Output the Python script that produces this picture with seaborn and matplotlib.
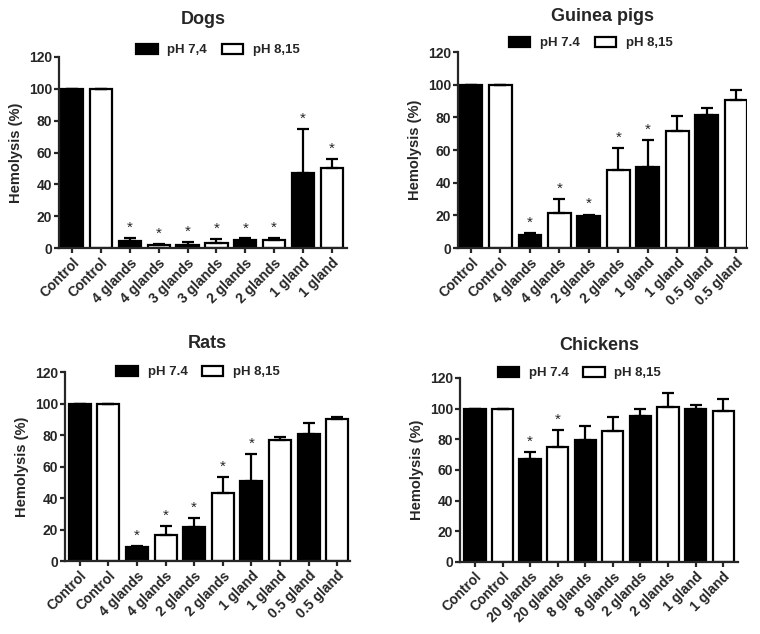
import pandas as pd
import matplotlib.pyplot as plt
import seaborn as sns
import numpy as np

# Dogs
dogs_labels = ['Control', 'Control', '4 glands', '4 glands', '3 glands', '3 glands',
               '2 glands', '2 glands', '1 gland', '1 gland']
dogs_values = [100, 100, 4.5, 2, 2, 3, 5, 5, 47, 50.5]
dogs_errors = [0, 0, 2, 0.5, 1.5, 2.5, 1, 1.5, 28, 5.5]
dogs_stars = [0, 0, 1, 1, 1, 1, 1, 1, 1, 1]
dogs_ph = ['pH 7,4', 'pH 8,15']

# Guinea pigs
gp_labels = ['Control', 'Control', '4 glands', '4 glands', '2 glands', '2 glands',
             '1 gland', '1 gland', '0.5 gland', '0.5 gland']
gp_values = [100, 100, 8, 21.5, 19.5, 48, 49.5, 71.5, 81.5, 90.5]
gp_errors = [0, 0, 1, 8.5, 1, 13, 16.5, 9.5, 4, 6.5]
gp_stars = [0, 0, 1, 1, 1, 1, 1, 0, 0, 0]
gp_ph = ['pH 7.4', 'pH 8,15']

# Rats
rats_labels = ['Control', 'Control', '4 glands', '4 glands', '2 glands', '2 glands',
               '1 gland', '1 gland', '0.5 gland', '0.5 gland']
rats_values = [100, 100, 9, 16.5, 21.5, 43, 51, 77, 80.5, 90]
rats_errors = [0, 0, 0.5, 5.5, 6, 10.5, 17, 2, 7, 1.5]
rats_stars = [0, 0, 1, 1, 1, 1, 1, 0, 0, 0]
rats_ph = ['pH 7.4', 'pH 8,15']

# Chickens
chk_labels = ['Control', 'Control', '20 glands', '20 glands', '8 glands', '8 glands',
              '2 glands', '2 glands', '1 gland', '1 gland']
chk_values = [100, 100, 67, 75, 79.5, 85.5, 95.5, 101, 99.5, 98.5]
chk_errors = [0, 0, 5, 11, 9, 9, 4.5, 9, 3, 7.5]
chk_stars = [0, 0, 1, 1, 0, 0, 0, 0, 0, 0]
chk_ph = ['pH 7.4', 'pH 8,15']

sns.set_style('ticks')
plt.rcParams['font.family'] = ['Liberation Sans', 'DejaVu Sans']
plt.rcParams['font.weight'] = 'bold'

fig = plt.figure(figsize=(7.6, 6.34), dpi=100)

# title, data..., axes rect, xlim, title pad, legend x, legend y offset
panels = [
    ('Dogs', dogs_labels, dogs_values, dogs_errors, dogs_stars, dogs_ph,
     [0.0776, 0.6088, 0.3789, 0.3013], (-0.45, 9.52), 24, 0.552, 0.037),
    ('Guinea pigs', gp_labels, gp_values, gp_errors, gp_stars, gp_ph,
     [0.6026, 0.6088, 0.3803, 0.3091], (-0.44, 9.37), 22.5, 0.46, 0.046),
    ('Rats', rats_labels, rats_values, rats_errors, rats_stars, rats_ph,
     [0.0855, 0.1151, 0.3750, 0.2981], (-0.52, 9.45), 17, 0.467, 0.0),
    ('Chickens', chk_labels, chk_values, chk_errors, chk_stars, chk_ph,
     [0.6053, 0.1136, 0.3658, 0.2902], (-0.54, 9.54), 20, 0.43, 0.027),
]

for title, labels, values, errors, stars, ph, rect, xlim, tpad, leg_x, leg_dy in panels:
    ax = fig.add_axes(rect)
    df = pd.DataFrame({
        'pos': [str(i) for i in range(len(labels))],
        'value': values,
        'ph': [ph[i % 2] for i in range(len(labels))],
    })
    sns.barplot(data=df, x='pos', y='value', hue='ph', hue_order=ph,
                palette={ph[0]: 'black', ph[1]: 'white'}, dodge=False,
                width=0.77, edgecolor='black', linewidth=1.6, ax=ax)
    x = np.arange(len(labels))
    ax.errorbar(x, values, yerr=[np.zeros(len(errors)), errors], fmt='none',
                ecolor='black', elinewidth=1.6, capsize=4, capthick=1.6)
    for i in range(len(labels)):
        if stars[i]:
            ax.text(x[i], values[i] + errors[i] + 2, '*', ha='center', va='bottom',
                    fontsize=11, fontweight='normal')
    ax.set_ylim(0, 120)
    ax.set_yticks(range(0, 121, 20))
    ax.set_xlim(*xlim)
    ax.set_xticks(x)
    ax.set_xticklabels(labels, rotation=45, ha='right', rotation_mode='anchor',
                       fontsize=10, fontweight='bold')
    ax.tick_params(axis='y', labelsize=10, width=1.6, length=3.5, pad=1.5)
    ax.tick_params(axis='x', width=1.6, length=3.5, pad=2)
    for lab in ax.get_yticklabels():
        lab.set_fontweight('bold')
    ax.set_xlabel('')
    ax.set_ylabel('Hemolysis (%)', fontsize=10.5, fontweight='bold', labelpad=4)
    ax.set_title(title, fontsize=13, fontweight='bold', pad=tpad)
    for s in ['left', 'bottom']:
        ax.spines[s].set_linewidth(1.6)
    sns.despine(ax=ax)
    sns.move_legend(ax, 'center', bbox_to_anchor=(leg_x, 1 + leg_dy), ncol=2,
                    frameon=False, title=None, fontsize=9.5, handlelength=1.6,
                    handleheight=0.8, handletextpad=0.75, columnspacing=1.1,
                    borderaxespad=0)
    for t in ax.get_legend().get_texts():
        t.set_fontweight('bold')

fig.savefig('out.png', dpi=100)
